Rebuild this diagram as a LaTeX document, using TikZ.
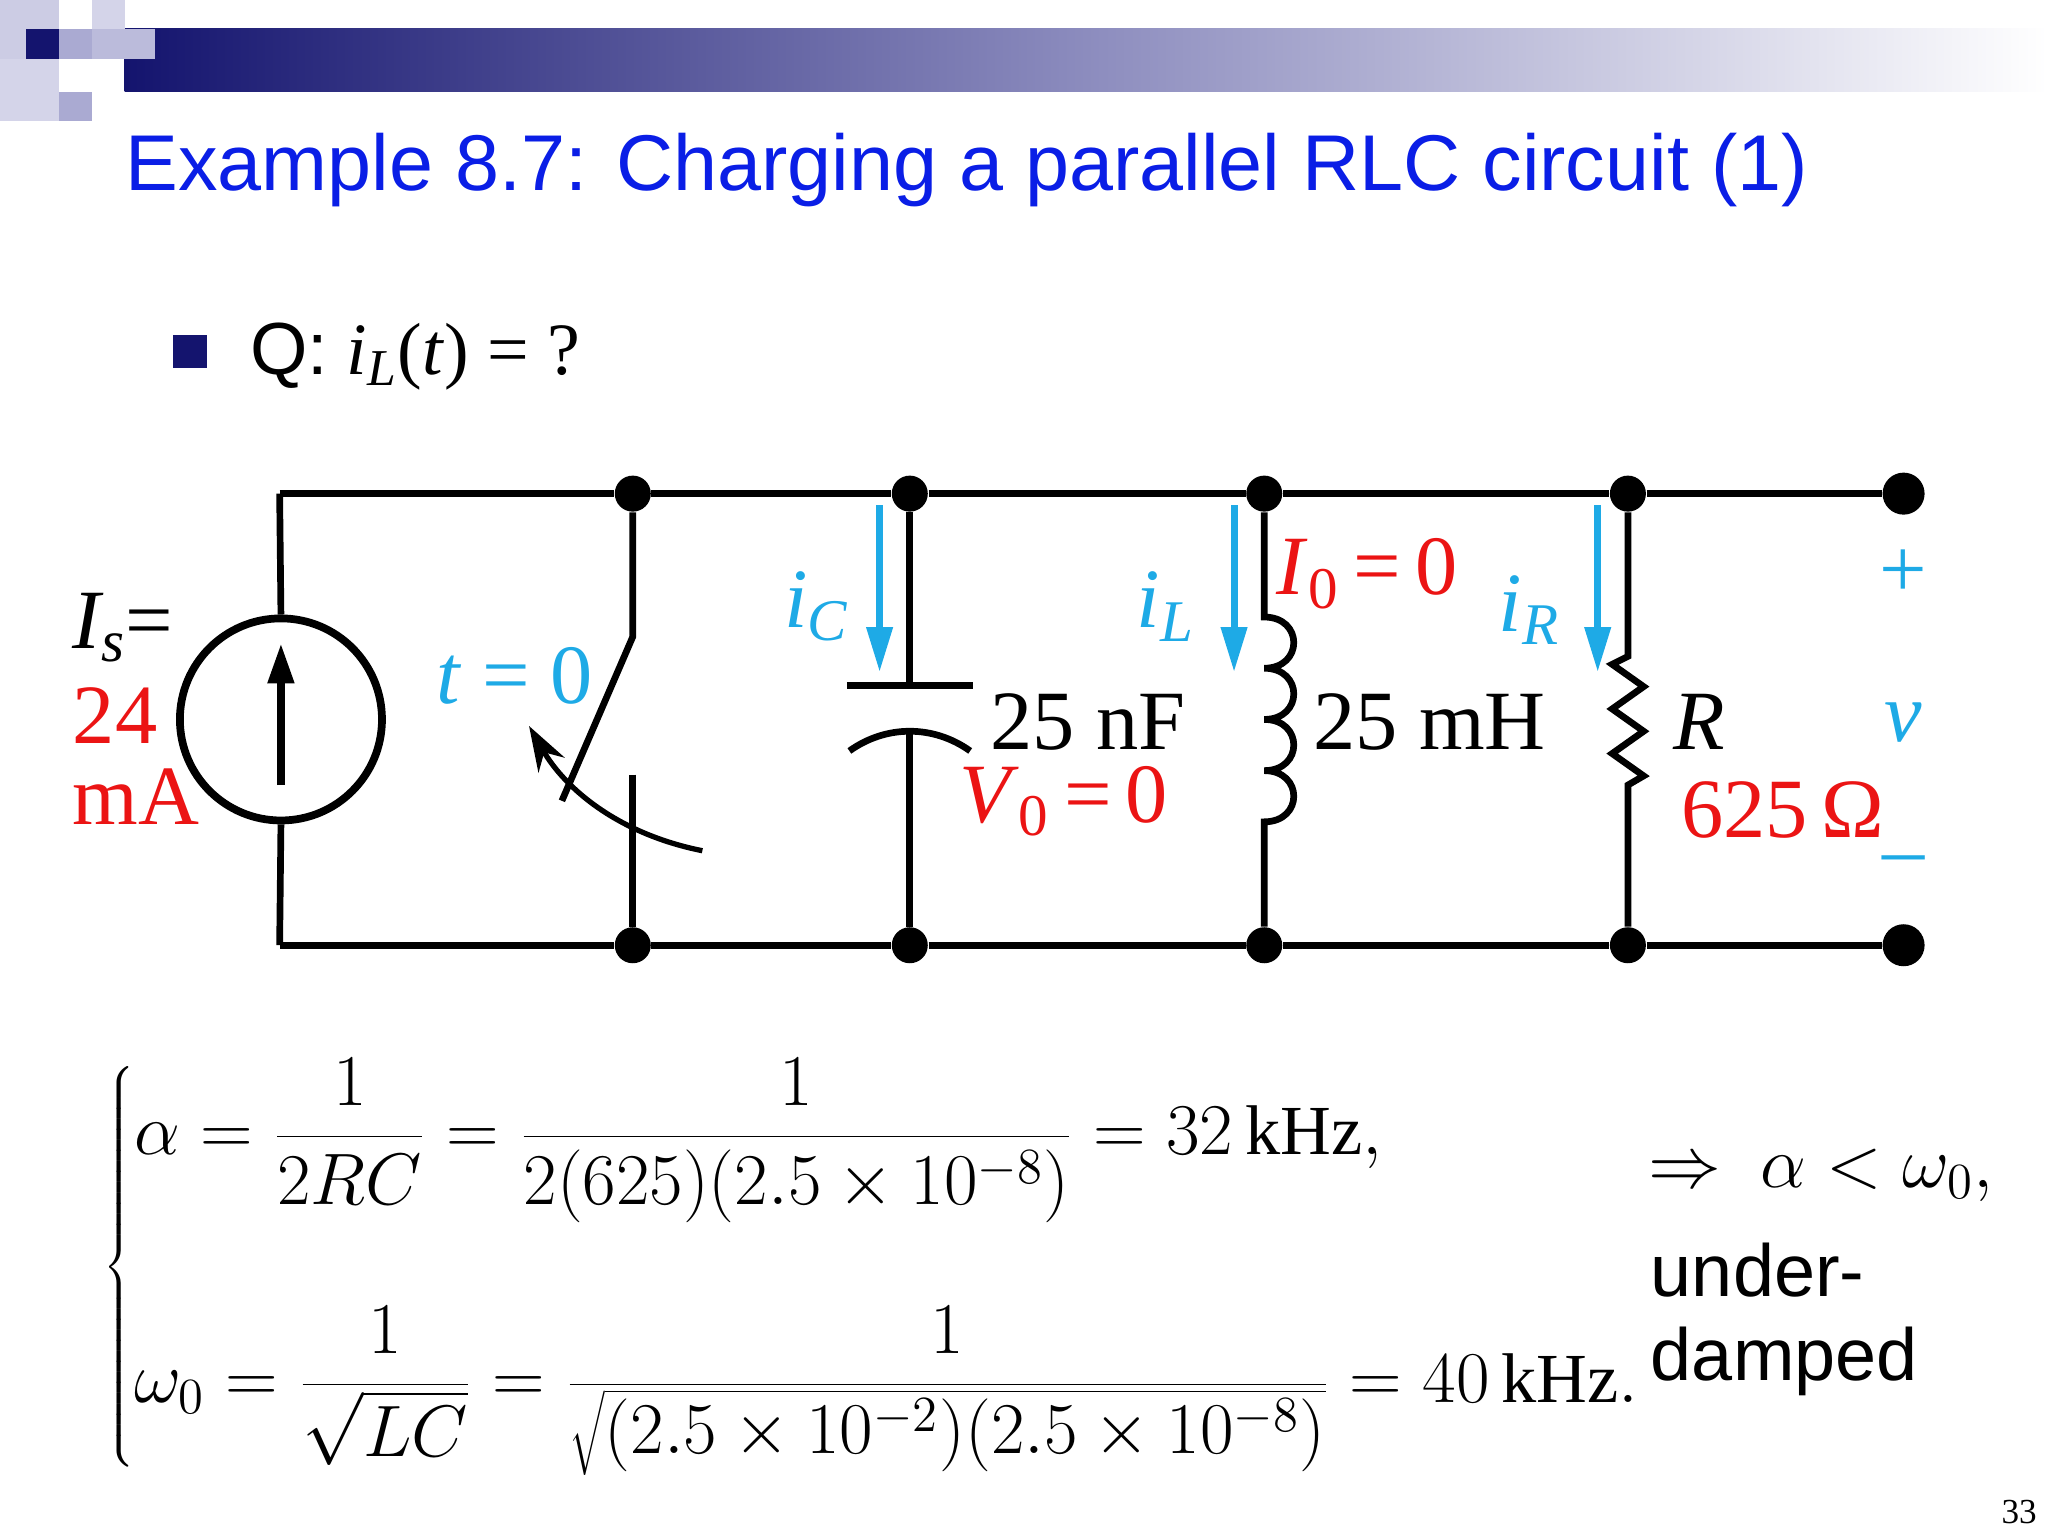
\documentclass[tikz,border=0pt]{standalone}
\usepackage{fontspec}
\setmainfont{Liberation Serif}
\newfontfamily\arial{Liberation Sans}
\usetikzlibrary{arrows.meta}
\definecolor{navy}{RGB}{20,20,110}
\definecolor{lav}{RGB}{170,170,210}
\definecolor{tblue}{RGB}{10,30,230}
\definecolor{cblue}{RGB}{30,170,230}
\definecolor{cred}{RGB}{235,20,20}
\begin{document}
\begin{tikzpicture}[x=0.013128cm,y=-0.013128cm,
 wire/.style={line width=1.9pt,black},
 dotn/.style={circle,fill=black,inner sep=0pt,minimum size=0.36cm},
 termn/.style={circle,fill=black,inner sep=0pt,minimum size=0.42cm},
 lbl/.style={font=\fontsize{24}{28}\selectfont,inner sep=0pt},
 cur/.style={line width=2pt,cblue,-{Triangle[length=0.45cm,width=0.25cm]}}]
\useasboundingbox (0,0) rectangle (1560,1170);
% header
\shade[left color=navy,right color=white,middle color=lav!80!navy] (95,22) rectangle (1560,70);
\fill[lav!60] (0,0) rectangle (45,45);
\fill[navy] (20,22) rectangle (45,45);
\fill[lav] (45,22) rectangle (70,45);
\fill[lav!50] (70,0) rectangle (95,22);
\fill[lav!80] (70,22) rectangle (118,45);
\fill[lav] (45,70) rectangle (70,92);
\fill[lav!50] (0,45) rectangle (45,92);
\node[anchor=base west,text=tblue,font=\arial\fontsize{22.5}{28}\selectfont,inner sep=0pt] (title) at (95,145) {Example 8.7: Charging a parallel RLC circuit (1)};
\fill[navy] (132,255) rectangle (158,280) node[coordinate] (bul) {};
\node[anchor=base west,font=\fontsize{21}{26}\selectfont,inner sep=0pt] (q) at (190,285) {{\arial Q:} \textit{i\textsubscript{L}}(\textit{t}) = ?};
% nodes
\foreach \n/\x in {a/482,b/693,c/963,d/1240}{
 \node[dotn] (\n t) at (\x,376) {}; \node[dotn] (\n b) at (\x,720) {};}
\node[termn] (pt) at (1450,376) {}; \node[termn] (pb) at (1450,720) {};
\coordinate (lt) at (213,376); \coordinate (lb) at (213,720);
\draw[wire] (lt) -- (at) -- (bt) -- (ct) -- (dt) -- (pt);
\draw[wire] (lb) -- (ab) -- (bb) -- (cb) -- (db) -- (pb);
% source
\node[circle,draw,line width=2.2pt,minimum size=2.02cm] (src) at (214,548) {};
\draw[wire] (lt) -- (src.north); \draw[wire] (src.south) -- (lb);
\draw[line width=2.2pt,-{Triangle[length=0.4cm,width=0.25cm]}] (214,598) -- (214,490);
\node[lbl,anchor=west] (is) at (55,478) {\textit{I\textsubscript{s}}=};
\node[lbl,anchor=west,text=cred] (v24) at (55,545) {24};
\node[lbl,anchor=west,text=cred] (ma) at (55,607) {mA};
% switch
\draw[wire] (at) -- (482,485) -- (428,610);
\draw[wire] (482,590) -- (ab);
\draw[line width=1.5pt,-{Stealth[length=0.45cm,width=0.3cm]}] (535,648) .. controls (470,635) and (430,600) .. (403,553);
\node[lbl,text=cblue] (t0) at (392,515) {\textit{t} = 0};
% capacitor
\draw[wire] (bt) -- (693,522);
\draw[wire] (645,522) -- (741,522);
\draw[wire] (647,572) .. controls (675,552) and (711,552) .. (739,572);
\draw[wire] (693,558) -- (bb);
\node[lbl,anchor=west] (cv) at (754,550) {25 nF};
\node[lbl,anchor=west,text=cred] (v0) at (730,610) {\textit{V}\textsubscript{0}\,=\,0};
\node[lbl,text=cblue] (ic) at (622,462) {\textit{i\textsubscript{C}}};
\draw[cur] (670,385) -- (670,512);
% inductor
\draw[wire] (ct) -- (963,470)
 \foreach \y in {470,509,548,587}{ .. controls (993,\y) and (993,\y+39) .. (963,\y+39)} -- (cb);
\node[lbl,anchor=west] (lv) at (1000,550) {25 mH};
\node[lbl,anchor=west,text=cred] (i0) at (972,437) {\textit{I}\textsubscript{0}\,=\,0};
\node[lbl,text=cblue] (il) at (888,462) {\textit{i\textsubscript{L}}};
\draw[cur] (940,385) -- (940,512);
% resistor
\draw[wire] (dt) -- (1240,500) -- (1228,506) -- (1252,523) -- (1228,540) -- (1252,557) -- (1228,574) -- (1252,591) -- (1240,598) -- (db);
\node[lbl,anchor=west] (rv) at (1274,550) {\textit{R}};
\node[lbl,anchor=west,text=cred] (rr) at (1280,617) {625\,Ω};
\node[lbl,text=cblue] (ir) at (1165,465) {\textit{i\textsubscript{R}}};
\draw[cur] (1217,385) -- (1217,512);
% terminals
\node[lbl,text=cblue] (pl) at (1450,437) {+};
\node[lbl,text=cblue] (vv) at (1450,550) {\textit{v}};
\node[lbl,text=cblue] (mi) at (1450,660) {–};
% equations
\node[anchor=west,inner sep=0pt,font=\fontsize{20}{24}\selectfont] (eq) at (78,965) {$\left\{\begin{array}{@{}l@{}}
\displaystyle \alpha=\frac{1}{2RC}=\frac{1}{2(625)(2.5\times10^{-8})}=32\,\mathrm{kHz},\\[36pt]
\displaystyle \omega_0=\frac{1}{\sqrt{LC}}=\frac{1}{\sqrt{(2.5\times10^{-2})(2.5\times10^{-8})}}=40\,\mathrm{kHz}.
\end{array}\right.$};
\node[anchor=west,inner sep=0pt,font=\fontsize{22}{26}\selectfont] (imp) at (1255,895) {$\Rightarrow\ \alpha<\omega_0,$};
\node[anchor=west,inner sep=0pt,font=\arial\fontsize{21}{26}\selectfont,align=left] (ud) at (1257,1005) {under-\\[-2pt]damped};
\node[inner sep=0pt,font=\fontsize{10}{12}\selectfont] (pg) at (1538,1152) {33};
\end{tikzpicture}
\end{document}
